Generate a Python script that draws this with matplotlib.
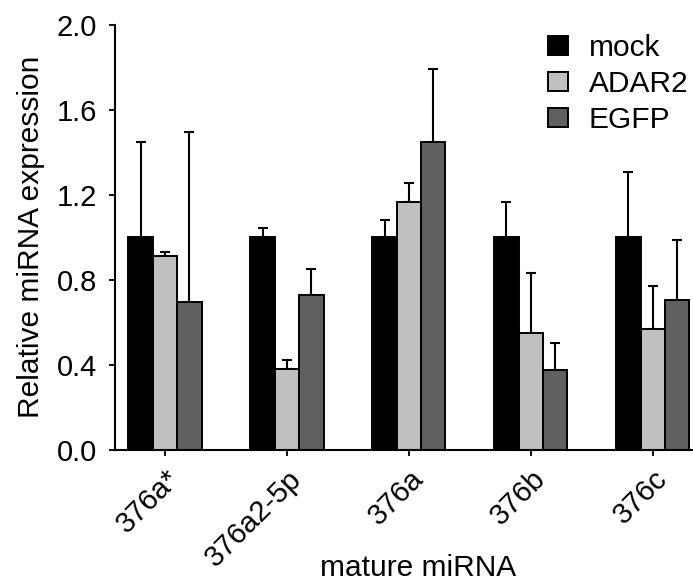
import numpy as np
import matplotlib
matplotlib.use('Agg')
import matplotlib.pyplot as plt
from matplotlib.patches import Patch

plt.rcParams['font.family'] = ['Liberation Sans', 'DejaVu Sans']

categories = ['376a*', '376a2-5p', '376a', '376b', '376c']
series = ['mock', 'ADAR2', 'EGFP']
mock = [1.0, 1.0, 1.0, 1.0, 1.0]
mock_err = [0.45, 0.045, 0.083, 0.165, 0.307]
adar2 = [0.91, 0.378, 1.165, 0.548, 0.566]
adar2_err = [0.02, 0.042, 0.092, 0.284, 0.205]
egfp = [0.697, 0.729, 1.448, 0.375, 0.703]
egfp_err = [0.80, 0.121, 0.347, 0.128, 0.284]
yticks = [0.0, 0.4, 0.8, 1.2, 1.6, 2.0]

colors = ['#000000', '#c0c0c0', '#606060']

fig = plt.figure(figsize=(6.93, 5.84), dpi=100)
ax = fig.add_axes([0.166, 0.2303, 0.834, 0.7269])

x = np.arange(len(categories))
w = 0.2
for k, (vals, errs) in enumerate([(mock, mock_err), (adar2, adar2_err), (egfp, egfp_err)]):
    pos = x + (k - 1) * w
    ax.bar(pos, vals, width=w, color=colors[k], edgecolor='black', linewidth=1.4, zorder=2)
    ax.errorbar(pos, vals, yerr=[np.zeros(len(vals)), errs], fmt='none',
                ecolor='black', elinewidth=1.5, capsize=3.8, capthick=1.5, zorder=1)

ax.set_xlim(-0.41, 4.33)
ax.set_ylim(0, 2.0)
ax.set_yticks(yticks)
ax.set_yticklabels(['%.1f' % v for v in yticks])
ax.set_xticks(x)
ax.set_xticklabels(categories, rotation=45, ha='right', rotation_mode='anchor')
ax.tick_params(labelsize=21, width=1.3, length=4, direction='out')
ax.tick_params(axis='y', pad=9)
ax.tick_params(axis='x', pad=7)
ax.spines['top'].set_visible(False)
ax.spines['right'].set_visible(False)
ax.spines['left'].set_linewidth(1.5)
ax.spines['bottom'].set_linewidth(1.5)

ax.set_ylabel('Relative miRNA expression', fontsize=21.5)
ax.yaxis.set_label_coords(-0.122, 0.5)
ax.set_xlabel('mature miRNA', fontsize=21.5)
ax.xaxis.set_label_coords(0.524, -0.245)

handles = [Patch(facecolor=c, edgecolor='black', linewidth=1.4) for c in colors]
fig.legend(handles, series, loc='upper left', bbox_to_anchor=(0.791, 0.942),
           frameon=False, fontsize=21.5, handlelength=0.68, handleheight=0.58,
           handletextpad=0.68, labelspacing=0.27, borderpad=0, borderaxespad=0)

plt.savefig('out.png', dpi=100)
